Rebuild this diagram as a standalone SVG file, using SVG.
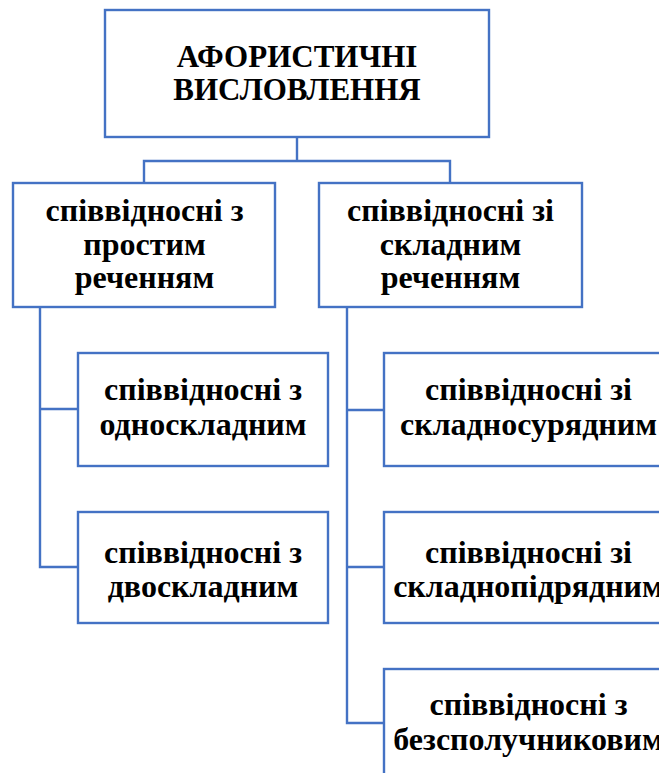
<svg xmlns="http://www.w3.org/2000/svg" width="659" height="773" viewBox="0 0 659 773">
<style>
.box{fill:#fff;stroke:#4472C4;stroke-width:2.4}
.con{fill:none;stroke:#4472C4;stroke-width:2.4}
.t{font-family:'Liberation Serif','Times New Roman',serif;font-weight:700;font-size:32px;fill:#000;text-anchor:middle}
.h{font-size:31px}
</style>
<rect width="659" height="773" fill="#fff"/>
<g id="connectors">
<path class="con" d="M297,138V161M144,183V161H450V183"/>
<path class="con" d="M40,307V567H78M40,409H78"/>
<path class="con" d="M347,307V723H384M347,410H384M347,567H384"/>
</g>
<g id="n-root">
<rect class="box" x="105" y="10" width="384" height="127"/>
<text class="t h" x="297" y="67">АФОРИСТИЧНІ</text>
<text class="t h" x="297" y="100">ВИСЛОВЛЕННЯ</text>
</g>
<g id="n-simple">
<rect class="box" x="13" y="183" width="262" height="124"/>
<text class="t" x="144.5" y="221">співвідносні з</text>
<text class="t" x="144.5" y="254.5">простим</text>
<text class="t" x="144.5" y="288">реченням</text>
</g>
<g id="n-complex">
<rect class="box" x="319" y="183" width="263" height="124"/>
<text class="t" x="450.5" y="221">співвідносні зі</text>
<text class="t" x="450.5" y="254.5">складним</text>
<text class="t" x="450.5" y="288">реченням</text>
</g>
<g id="n-one">
<rect class="box" x="78" y="353" width="250" height="113"/>
<text class="t" x="203" y="400">співвідносні з</text>
<text class="t" x="203" y="435">односкладним</text>
</g>
<g id="n-two">
<rect class="box" x="78" y="512" width="250" height="111"/>
<text class="t" x="203" y="563">співвідносні з</text>
<text class="t" x="203" y="597">двоскладним</text>
</g>
<g id="n-coord">
<rect class="box" x="384" y="353" width="288" height="113"/>
<text class="t" x="528.5" y="400">співвідносні зі</text>
<text class="t" x="528.5" y="435">складносурядним</text>
</g>
<g id="n-sub">
<rect class="box" x="384" y="512" width="288" height="111"/>
<text class="t" x="528.5" y="563">співвідносні зі</text>
<text class="t" x="528.5" y="597">складнопідрядним</text>
</g>
<g id="n-asyn">
<rect class="box" x="384" y="669" width="288" height="112"/>
<text class="t" x="528.5" y="715">співвідносні з</text>
<text class="t" x="528.5" y="750">безсполучниковим</text>
</g>
</svg>
